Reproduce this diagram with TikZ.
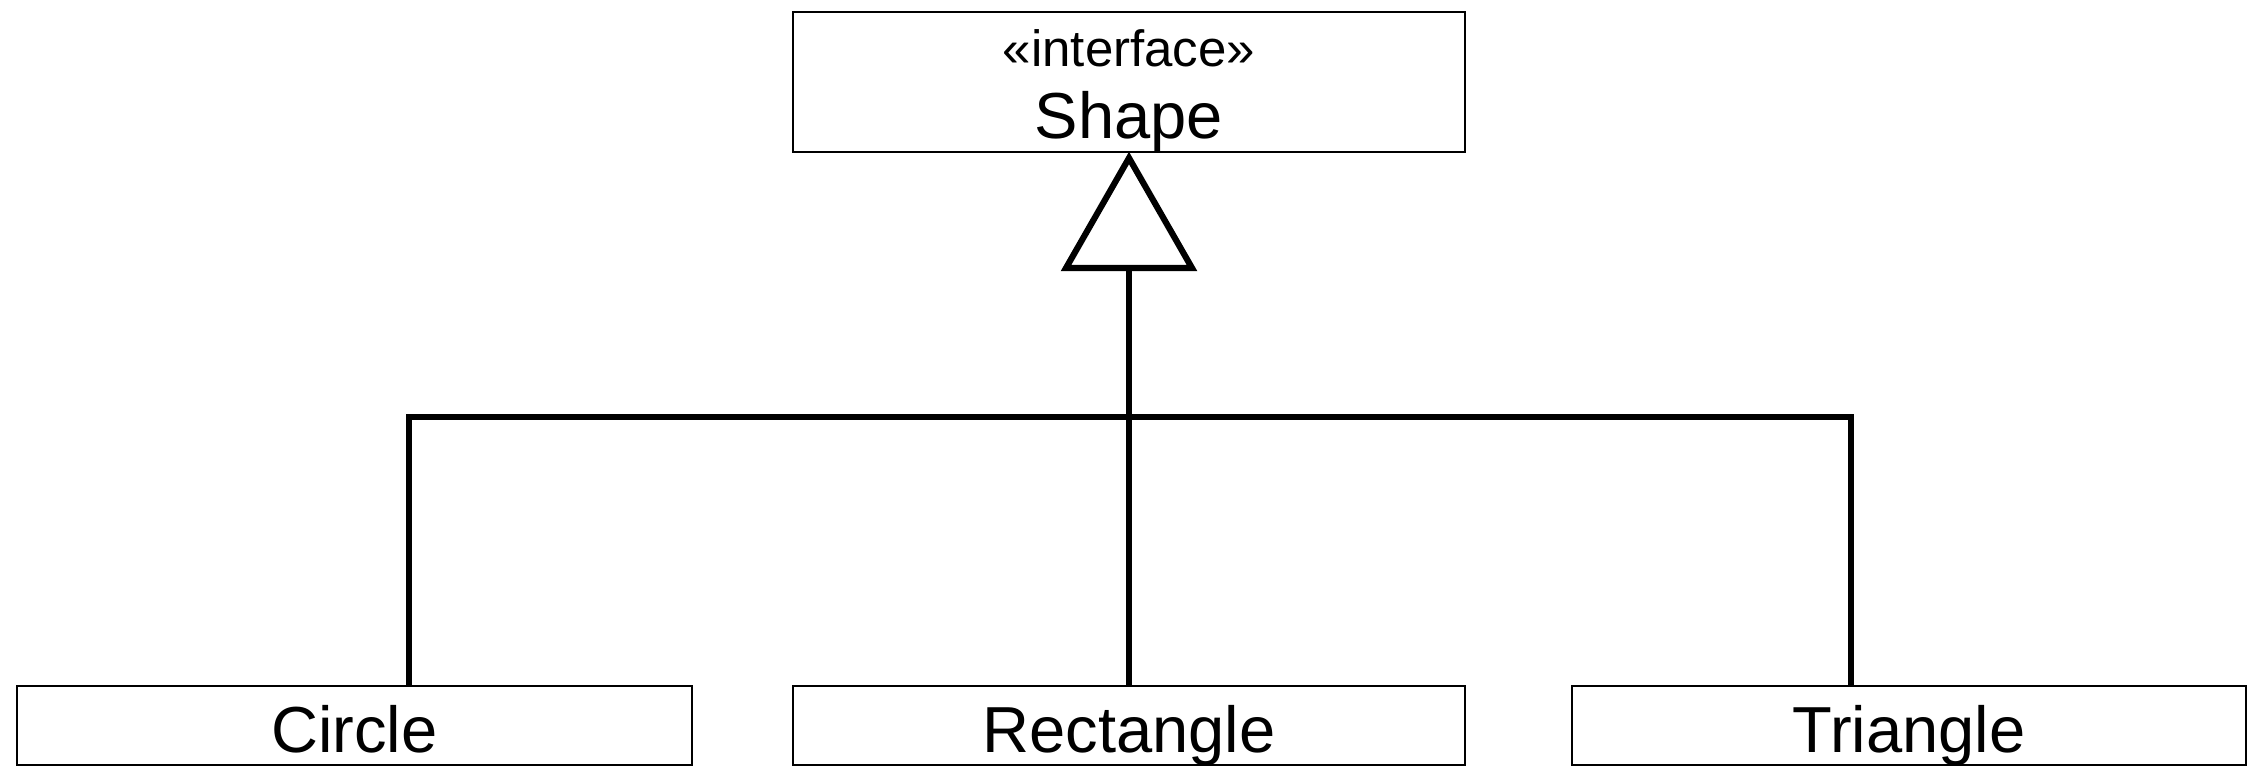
\documentclass[tikz,border=0pt]{standalone}
\usepackage{fontspec}
\setmainfont{Liberation Sans}
\begin{document}
\begin{tikzpicture}[x=0.01cm,y=-0.01cm,
  box/.style={draw=black,line width=0.72pt,inner sep=0pt,fill=white},
  conn/.style={draw=black,line width=1.75pt,line join=miter},
  lbl/.style={inner sep=0pt,anchor=base,font=\fontsize{18.5}{22}\selectfont},
  stereo/.style={inner sep=0pt,anchor=base,font=\fontsize{14.5}{17}\selectfont}]
\useasboundingbox (0,0) rectangle (2248,766);
% boxes
\node[box,minimum width=6.72cm,minimum height=1.40cm] (shape) at (1129,82) {};
\node[box,minimum width=6.75cm,minimum height=0.79cm] (circle) at (354.5,725.5) {};
\node[box,minimum width=6.72cm,minimum height=0.79cm] (rect) at (1129,725.5) {};
\node[box,minimum width=6.74cm,minimum height=0.79cm] (tri) at (1909,725.5) {};
% texts
\node[stereo] (st) at (1129,66) {«interface»};
\node[lbl] (shapet) at (1129,138) {Shape};
\node[lbl] (circlet) at (354.5,752) {Circle};
\node[lbl] (rectt) at (1129,752) {Rectangle};
\node[lbl] (trit) at (1909,752) {Triangle};
% connectors
\coordinate (apex) at (1129,158);
\coordinate (base) at (1129,268);
\coordinate (bus) at (1129,417);
\draw[conn] (rect.north) -- (base);
\draw[conn] ([xshift=0.545cm]circle.north) |- (bus);
\draw[conn] ([xshift=-0.58cm]tri.north) |- (bus);
\draw[conn,fill=white] (apex) -- ++(-63,110) -- ++(126,0) -- cycle;
\end{tikzpicture}
\end{document}
